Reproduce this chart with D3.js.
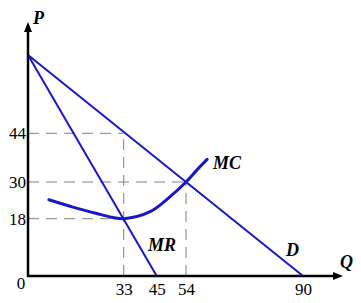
<!DOCTYPE html>
<html>
<head>
<meta charset="utf-8">
<script src="https://cdn.jsdelivr.net/npm/d3@7"></script>
<style>
  html, body { margin: 0; padding: 0; background: #fff; }
  svg { display: block; }
</style>
</head>
<body>
<script>
// ---- data ----
const qTicks = [33, 45, 54, 90];
const pTicks = [18, 30, 44];
const demandQ = [0, 90];
const demandP = [69, 0];
const mrQ = [0, 45];
const mrP = [69, 0];
const mcQ = [7.2, 15.5, 23.7, 29.3, 33, 42.6, 49.1, 54, 57.1, 60.5];
const mcP = [24.2, 21.8, 19.7, 18.4, 18, 20.3, 25.2, 30, 33.2, 36.5];
// dashed guide lines: [q, p]
const guides = [[33, 44], [54, 30], [33, 18]];

const W = 361, H = 303;
const svg = d3.select("body").append("svg").attr("width", W).attr("height", H);

// schematic (non-uniform) scales, as in the hand-drawn original
const x = d3.scaleLinear().domain([0, 33, 45, 54, 90]).range([28, 123.7, 156.7, 186, 303]);
const y = d3.scaleLinear().domain([0, 18, 30, 44, 69]).range([276, 218.7, 182, 133.3, 55]);

const blue = "#1818c8";
const serif = "'Liberation Serif', 'Times New Roman', serif";

// dashed guides
const gG = svg.append("g").attr("stroke", "#808080").attr("stroke-width", 1)
  .attr("stroke-dasharray", "11,7").attr("fill", "none");
guides.forEach(([q, p]) => {
  gG.append("line").attr("x1", x(0)).attr("x2", x(q)).attr("y1", y(p)).attr("y2", y(p));
});
// verticals
const vert = [[33, 44], [54, 30]];
vert.forEach(([q, p]) => {
  gG.append("line").attr("x1", x(q)).attr("x2", x(q)).attr("y1", y(0)).attr("y2", y(p));
});

// curves
const line = d3.line().x(d => x(d[0])).y(d => y(d[1]));
svg.append("path").datum(demandQ.map((q, i) => [q, demandP[i]]))
  .attr("d", line).attr("fill", "none").attr("stroke", blue).attr("stroke-width", 2);
svg.append("path").datum(mrQ.map((q, i) => [q, mrP[i]]))
  .attr("d", line).attr("fill", "none").attr("stroke", blue).attr("stroke-width", 2);
svg.append("path").datum(mcQ.map((q, i) => [q, mcP[i]]))
  .attr("d", line.curve(d3.curveCatmullRom)).attr("fill", "none")
  .attr("stroke", blue).attr("stroke-width", 3).attr("stroke-linecap", "round");

// axes (tick labels via d3 axes)
const yAxis = svg.append("g").attr("transform", `translate(${x(0) - 1},0)`)
  .call(d3.axisLeft(y).tickValues(pTicks).tickSize(0).tickPadding(1));
const xAxis = svg.append("g").attr("transform", `translate(0,${y(0)})`)
  .call(d3.axisBottom(x).tickValues(qTicks).tickSize(0).tickPadding(7));
[yAxis, xAxis].forEach(a => {
  a.select(".domain").remove();
  a.selectAll("text").attr("font-family", serif).attr("font-size", 17).attr("fill", "#000");
});

// axis lines with arrows
const ax = svg.append("g");
ax.append("line").attr("x1", x(0)).attr("x2", x(0)).attr("y1", y(0) + 1).attr("y2", 30)
  .attr("stroke", "#000").attr("stroke-width", 2.5);
ax.append("path").attr("d", `M${x(0)},22 L${x(0) - 4},32 L${x(0) + 4},32 Z`).attr("fill", "#000");
ax.append("line").attr("x1", x(0) - 1).attr("x2", 335).attr("y1", y(0)).attr("y2", y(0))
  .attr("stroke", "#000").attr("stroke-width", 2.5);
ax.append("path").attr("d", `M343,${y(0)} L333,${y(0) - 4} L333,${y(0) + 4} Z`).attr("fill", "#000");

// labels
const lab = (t, px, py, anchor) => svg.append("text").text(t).attr("x", px).attr("y", py)
  .attr("font-family", serif).attr("font-size", 18).attr("font-weight", "bold")
  .attr("font-style", "italic").attr("text-anchor", anchor || "start");
lab("P", 33, 24);
lab("Q", 340, 268);
lab("MC", 213, 169);
lab("MR", 148, 251);
lab("D", 286, 256);
svg.append("text").text("0").attr("x", 21).attr("y", 289).attr("text-anchor", "middle")
  .attr("font-family", serif).attr("font-size", 17);
</script>
</body>
</html>
